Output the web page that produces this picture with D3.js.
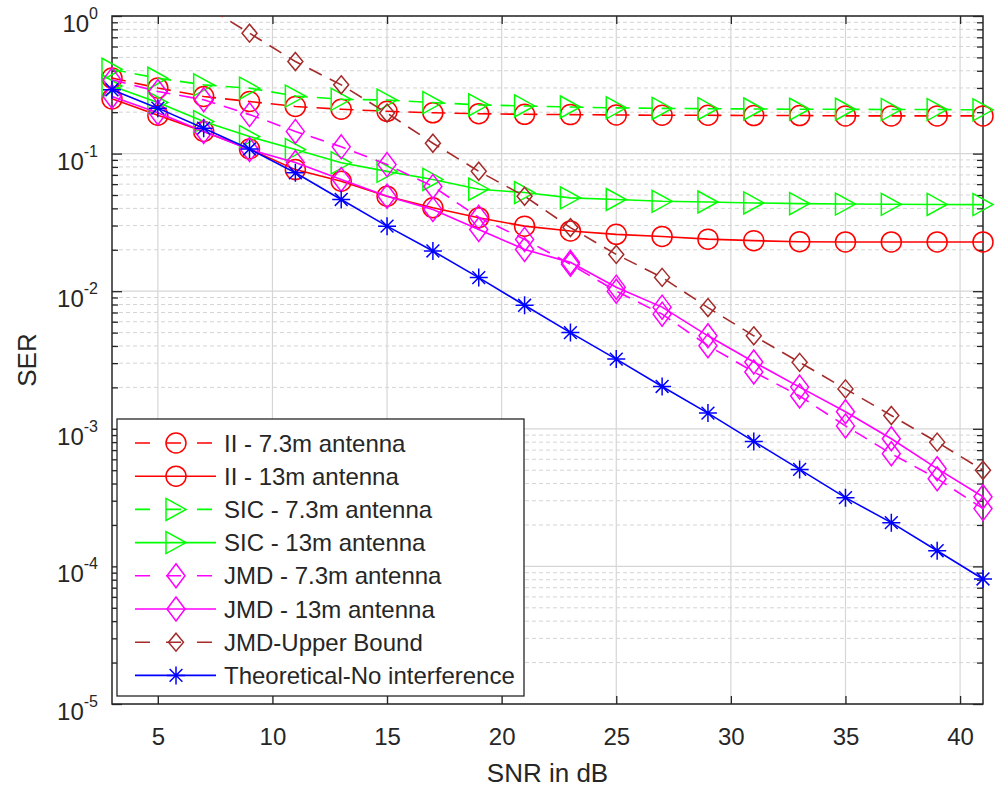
<!DOCTYPE html>
<html>
<head>
<meta charset="utf-8">
<script src="https://cdn.jsdelivr.net/npm/d3@7"></script>
<style>
  body { margin: 0; background: #fff; }
  text { font-family: "Liberation Sans", Arial, sans-serif; fill: #262626; }
</style>
</head>
<body>
<svg id="chart"></svg>
<script>
const WIDTH = 999;
const HEIGHT = 789;
const margin = {top: 16, right: 16, bottom: 85, left: 112};

// SNR points (dB)
const snr = [3, 5, 7, 9, 11, 13, 15, 17, 19, 21, 23, 25, 27, 29, 31, 33, 35, 37, 39, 41];

// SER values
const ii73  = [0.354, 0.30, 0.26, 0.239, 0.22, 0.21, 0.203, 0.198, 0.195, 0.193, 0.192, 0.191, 0.19, 0.19, 0.189, 0.189, 0.188, 0.188, 0.188, 0.188];
const ii13  = [0.25, 0.19, 0.145, 0.108, 0.0765, 0.063, 0.049, 0.0404, 0.0342, 0.0297, 0.0274, 0.0259, 0.025, 0.0239, 0.0233, 0.0229, 0.0228, 0.0228, 0.0228, 0.0228];
const sic73 = [0.41, 0.353, 0.316, 0.299, 0.262, 0.248, 0.245, 0.235, 0.226, 0.222, 0.218, 0.215, 0.213, 0.212, 0.211, 0.21, 0.21, 0.209, 0.209, 0.208];
const sic13 = [0.31, 0.235, 0.171, 0.133, 0.107, 0.0857, 0.0743, 0.0649, 0.0551, 0.0521, 0.0477, 0.0464, 0.045, 0.0445, 0.0438, 0.0433, 0.043, 0.0428, 0.0427, 0.0426];
const jmd73 = [0.344, 0.283, 0.246, 0.192, 0.145, 0.112, 0.0832, 0.0577, 0.0344, 0.0238, 0.0157, 0.0100, 0.00681, 0.00402, 0.00259, 0.00173, 0.00105, 0.000659, 0.000434, 0.000263];
const jmd13 = [0.26, 0.198, 0.145, 0.107, 0.0861, 0.0648, 0.049, 0.0393, 0.0281, 0.0201, 0.0162, 0.0107, 0.00766, 0.00474, 0.00306, 0.00201, 0.00133, 0.000847, 0.000513, 0.000321];
const jmdUB = [3.0, 1.9, 1.2, 0.75, 0.467, 0.316, 0.197, 0.119, 0.0744, 0.049, 0.029, 0.0185, 0.0126, 0.0076, 0.00474, 0.00304, 0.00195, 0.00125, 0.0008, 0.0005];
const theory = [0.291, 0.214, 0.153, 0.108, 0.0725, 0.0464, 0.0297, 0.0196, 0.01256, 0.0079, 0.005, 0.00321, 0.00203, 0.0013, 0.00081, 0.000507, 0.000316, 0.000208, 0.00013, 0.000081];

const xTicks = [5, 10, 15, 20, 25, 30, 35, 40];
const yTicks = [1e-5, 1e-4, 1e-3, 1e-2, 1e-1, 1];
const yExp = [-5, -4, -3, -2, -1, 0];

const series = [
  {name: 'II - 7.3m antenna', values: ii73, color: '#ff0000', dashed: true, marker: 'circle'},
  {name: 'II - 13m antenna', values: ii13, color: '#ff0000', dashed: false, marker: 'circle'},
  {name: 'SIC - 7.3m antenna', values: sic73, color: '#00ff00', dashed: true, marker: 'triangle'},
  {name: 'SIC - 13m antenna', values: sic13, color: '#00ff00', dashed: false, marker: 'triangle'},
  {name: 'JMD - 7.3m antenna', values: jmd73, color: '#ff00ff', dashed: true, marker: 'diamond'},
  {name: 'JMD - 13m antenna', values: jmd13, color: '#ff00ff', dashed: false, marker: 'diamond'},
  {name: 'JMD-Upper Bound', values: jmdUB, color: '#a52a2a', dashed: true, marker: 'smalldiamond'},
  {name: 'Theoretical-No interference', values: theory, color: '#0000ff', dashed: false, marker: 'star'}
];

const svg = d3.select('#chart').attr('width', WIDTH).attr('height', HEIGHT);

const x = d3.scaleLinear().domain([3, 41]).range([margin.left, WIDTH - margin.right]);
const y = d3.scaleLog().domain([1e-5, 1]).range([HEIGHT - margin.bottom, margin.top]);

const pLeft = x.range()[0], pRight = x.range()[1];
const pTop = y.range()[1], pBottom = y.range()[0];

// minor values for log grid
const minors = [];
yExp.slice(0, -1).forEach(e => {
  for (let k = 2; k <= 9; k++) minors.push(k * Math.pow(10, e));
});

// grid
const grid = svg.append('g');
grid.selectAll('.minor').data(minors).enter().append('line')
  .attr('x1', pLeft).attr('x2', pRight)
  .attr('y1', d => y(d)).attr('y2', d => y(d))
  .attr('stroke', '#d4d4d4').attr('stroke-width', 1).attr('stroke-dasharray', '4,3');
grid.selectAll('.ymaj').data(yTicks).enter().append('line')
  .attr('x1', pLeft).attr('x2', pRight)
  .attr('y1', d => y(d)).attr('y2', d => y(d))
  .attr('stroke', '#d6d6d6').attr('stroke-width', 1.2);
grid.selectAll('.xmaj').data(xTicks).enter().append('line')
  .attr('x1', d => x(d)).attr('x2', d => x(d))
  .attr('y1', pTop).attr('y2', pBottom)
  .attr('stroke', '#d6d6d6').attr('stroke-width', 1.2);

// axes
const axisColor = '#262626';
const xAxisB = d3.axisBottom(x).tickValues(xTicks).tickSize(-8).tickFormat(d3.format('d'));
const xAxisT = d3.axisTop(x).tickValues(xTicks).tickSize(-8).tickFormat('');
const yAxisL = d3.axisLeft(y).tickValues(yTicks).tickSize(-10).tickFormat('');
const yAxisR = d3.axisRight(y).tickValues(yTicks).tickSize(-10).tickFormat('');
const yMinL = d3.axisLeft(y).tickValues(minors).tickSize(-6).tickFormat('');
const yMinR = d3.axisRight(y).tickValues(minors).tickSize(-6).tickFormat('');

function styleAxis(g) {
  g.select('.domain').remove();
  g.selectAll('line').attr('stroke', axisColor).attr('stroke-width', 1.3);
}

svg.append('g').attr('transform', `translate(0,${pBottom})`).call(xAxisB).call(styleAxis)
  .selectAll('text').attr('font-size', 24).attr('y', 24).attr('dy', '0.71em')
  .style('font-family', '"Liberation Sans", Arial, sans-serif').attr('fill', '#262626');
svg.append('g').attr('transform', `translate(0,${pTop})`).call(xAxisT).call(styleAxis);
svg.append('g').attr('transform', `translate(${pLeft},0)`).call(yAxisL).call(styleAxis);
svg.append('g').attr('transform', `translate(${pRight},0)`).call(yAxisR).call(styleAxis);
svg.append('g').attr('transform', `translate(${pLeft},0)`).call(yMinL).call(styleAxis);
svg.append('g').attr('transform', `translate(${pRight},0)`).call(yMinR).call(styleAxis);

// y tick labels with superscript exponents
const yLab = svg.append('g');
yTicks.forEach((t, i) => {
  const txt = yLab.append('text')
    .attr('x', pLeft - 14).attr('y', y(t) + 16)
    .attr('text-anchor', 'end').attr('font-size', 24);
  txt.append('tspan').text('10');
  txt.append('tspan').attr('font-size', 16).attr('dy', -13).text(yExp[i]);
});

// box
svg.append('rect').attr('x', pLeft).attr('y', pTop)
  .attr('width', pRight - pLeft).attr('height', pBottom - pTop)
  .attr('fill', 'none').attr('stroke', axisColor).attr('stroke-width', 1.5);

// axis labels
svg.append('text').attr('x', (pLeft + pRight) / 2).attr('y', 782)
  .attr('text-anchor', 'middle').attr('font-size', 26).text('SNR in dB');
svg.append('text').attr('transform', `translate(36,${(pTop + pBottom) / 2}) rotate(-90)`)
  .attr('text-anchor', 'middle').attr('font-size', 26).text('SER');

// markers
function drawMarker(g, type, cx, cy, color) {
  let el;
  if (type === 'circle') {
    el = g.append('circle').attr('cx', cx).attr('cy', cy).attr('r', 10);
  } else if (type === 'triangle') {
    el = g.append('path').attr('d', `M${cx - 10},${cy - 11}L${cx + 10},${cy}L${cx - 10},${cy + 11}Z`);
  } else if (type === 'diamond') {
    el = g.append('path').attr('d', `M${cx},${cy - 12}L${cx + 9},${cy}L${cx},${cy + 12}L${cx - 9},${cy}Z`);
  } else if (type === 'smalldiamond') {
    el = g.append('path').attr('d', `M${cx},${cy - 9}L${cx + 7.5},${cy}L${cx},${cy + 9}L${cx - 7.5},${cy}Z`);
  } else {
    const r = 9, q = 6.4;
    el = g.append('path').attr('d',
      `M${cx},${cy - r}L${cx},${cy + r}M${cx - r},${cy}L${cx + r},${cy}` +
      `M${cx - q},${cy - q}L${cx + q},${cy + q}M${cx - q},${cy + q}L${cx + q},${cy - q}`);
  }
  el.attr('fill', 'none').attr('stroke', color).attr('stroke-width', 1.5);
}

svg.append('clipPath').attr('id', 'plotclip')
  .append('rect').attr('x', 0).attr('y', pTop).attr('width', WIDTH).attr('height', pBottom - pTop);

const plot = svg.append('g').attr('clip-path', 'url(#plotclip)');
const line = d3.line().x((d, i) => x(snr[i])).y(d => y(d));

series.forEach(s => {
  const g = plot.append('g');
  g.append('path').datum(s.values).attr('d', line)
    .attr('fill', 'none').attr('stroke', s.color).attr('stroke-width', 1.6)
    .attr('stroke-dasharray', s.dashed ? '14,9' : null);
  s.values.forEach((v, i) => {
    if (v <= 1) drawMarker(g, s.marker, x(snr[i]), y(v), s.color);
  });
});

// legend
const lg = svg.append('g');
const lgX = 117, lgY = 419, lgW = 407, lgH = 277, rowH = 33.2;
lg.append('rect').attr('x', lgX).attr('y', lgY).attr('width', lgW).attr('height', lgH)
  .attr('fill', '#fff').attr('stroke', axisColor).attr('stroke-width', 1.3);
series.forEach((s, i) => {
  const cy = lgY + 24 + i * rowH;
  lg.append('line').attr('x1', 135).attr('x2', 216).attr('y1', cy).attr('y2', cy)
    .attr('stroke', s.color).attr('stroke-width', 1.6)
    .attr('stroke-dasharray', s.dashed ? '15,16' : null);
  drawMarker(lg, s.marker, 176, cy, s.color);
  lg.append('text').attr('x', 224).attr('y', cy + 8.5).attr('font-size', 24).text(s.name);
});
</script>
</body>
</html>
